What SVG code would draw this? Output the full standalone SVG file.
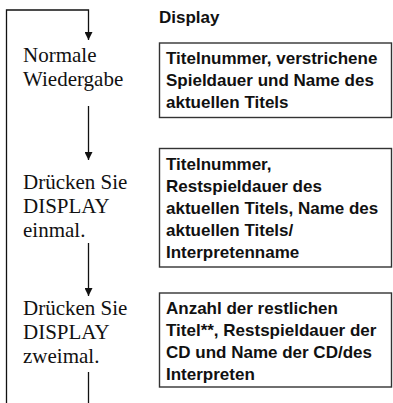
<svg xmlns="http://www.w3.org/2000/svg" width="393" height="403" viewBox="0 0 393 403">
<defs>
<style>
.lbl{font-family:"Liberation Serif","Times New Roman",serif;font-size:21px;fill:#111}
.box{fill:#fff;stroke:#333;stroke-width:1.4}
.bt{font-family:"Liberation Sans",Arial,sans-serif;font-size:17px;font-weight:bold;fill:#111}
.ln{fill:none;stroke:#111;stroke-width:1.3}
</style>
<marker id="ah" viewBox="0 0 10 10" refX="10" refY="5" markerWidth="8" markerHeight="8" markerUnits="userSpaceOnUse" orient="auto">
<path d="M0,0 L10,5 L0,10 Z" fill="#111"/>
</marker>
</defs>
<rect width="393" height="403" fill="#fff"/>
<g id="connectors">
<path class="ln" d="M6.5,403 V10 H88.5 V40" marker-end="url(#ah)"/>
<path class="ln" d="M88.5,106 V160" marker-end="url(#ah)"/>
<path class="ln" d="M88.5,243 V296" marker-end="url(#ah)"/>
<path class="ln" d="M88.5,372 V403"/>
</g>
<g id="header">
<text class="bt" x="159" y="23">Display</text>
</g>
<g id="step1">
<text class="lbl" x="23" y="62">Normale</text>
<text class="lbl" x="23" y="86">Wiedergabe</text>
</g>
<g id="step2">
<text class="lbl" x="23" y="189">Drücken Sie</text>
<text class="lbl" x="23" y="213">DISPLAY</text>
<text class="lbl" x="23" y="237">einmal.</text>
</g>
<g id="step3">
<text class="lbl" x="23" y="315">Drücken Sie</text>
<text class="lbl" x="23" y="339">DISPLAY</text>
<text class="lbl" x="23" y="363">zweimal.</text>
</g>
<g id="display1">
<rect class="box" x="159.5" y="43" width="232" height="74.5"/>
<text class="bt" x="166" y="64">Titelnummer, verstrichene</text>
<text class="bt" x="166" y="86">Spieldauer und Name des</text>
<text class="bt" x="166" y="108">aktuellen Titels</text>
</g>
<g id="display2">
<rect class="box" x="159.5" y="148.5" width="232" height="118.5"/>
<text class="bt" x="166" y="170">Titelnummer,</text>
<text class="bt" x="166" y="192">Restspieldauer des</text>
<text class="bt" x="166" y="214">aktuellen Titels, Name des</text>
<text class="bt" x="166" y="236">aktuellen Titels/</text>
<text class="bt" x="166" y="258">Interpretenname</text>
</g>
<g id="display3">
<rect class="box" x="159.5" y="293" width="232" height="94"/>
<text class="bt" x="166" y="314">Anzahl der restlichen</text>
<text class="bt" x="166" y="336">Titel**, Restspieldauer der</text>
<text class="bt" x="166" y="358">CD und Name der CD/des</text>
<text class="bt" x="166" y="380">Interpreten</text>
</g>
</svg>
